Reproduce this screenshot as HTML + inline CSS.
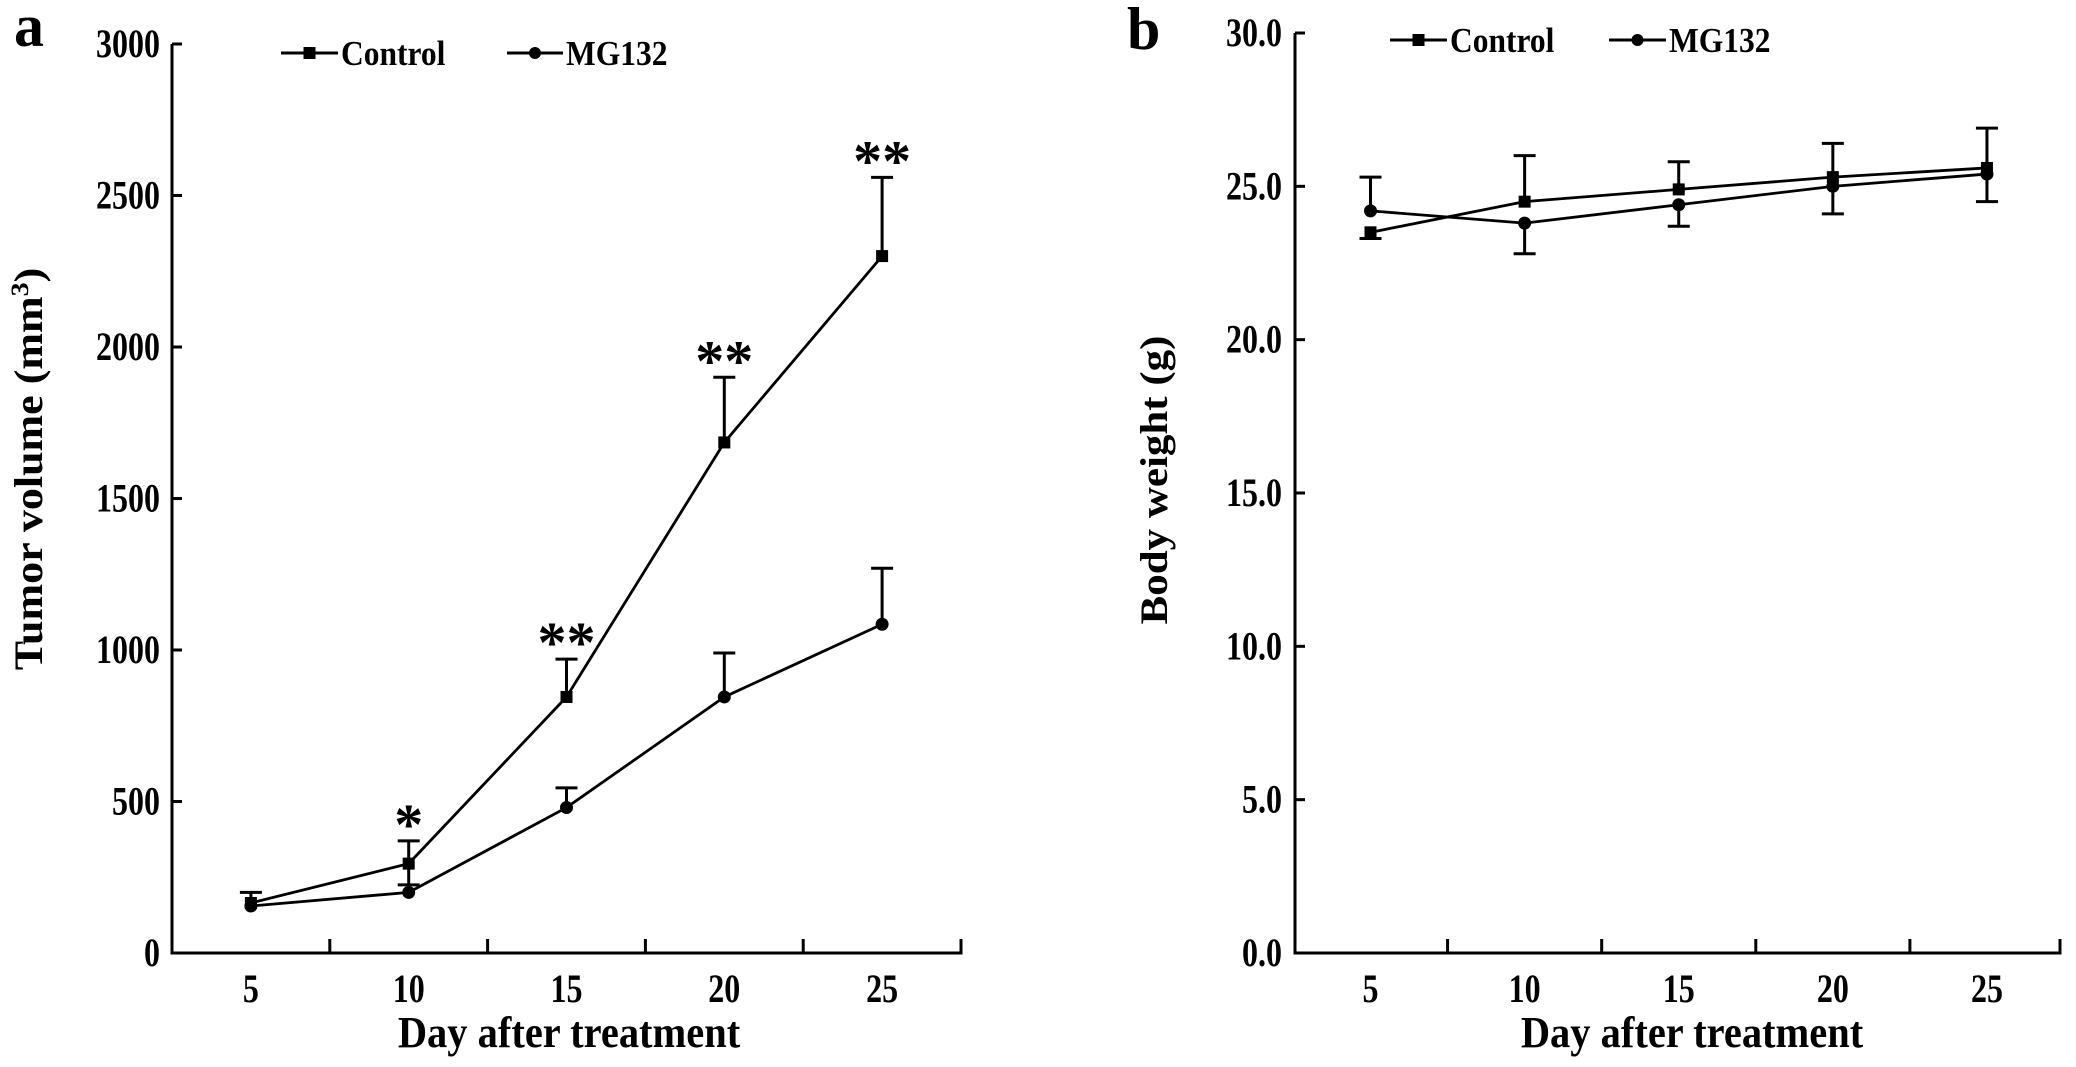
<!DOCTYPE html>
<html><head><meta charset="utf-8"><style>
html,body{margin:0;padding:0;background:#fff;}
svg{display:block;font-family:"Liberation Serif",serif;font-weight:bold;}
</style></head><body>
<svg id="fig" width="2076" height="1067" viewBox="0 0 2076 1067"></svg>
<script>
const days = [5, 10, 15, 20, 25];
const xTickLabels = ["5", "10", "15", "20", "25"];
const volTicks = [0, 500, 1000, 1500, 2000, 2500, 3000];
const volControl = [165, 295, 845, 1685, 2300];
const volControlErrUp = [35, 75, 125, 215, 260];
const volControlErrDown = [0, 70, 0, 0, 0];
const volMG = [155, 200, 480, 845, 1085];
const volMGErrUp = [0, 0, 65, 145, 185];
const volMGErrDown = [0, 0, 0, 0, 0];
const volStars = ["", "*", "**", "**", "**"];
const wtTicks = [0, 5, 10, 15, 20, 25, 30];
const wtTickLabels = ["0.0", "5.0", "10.0", "15.0", "20.0", "25.0", "30.0"];
const wtControl = [23.5, 24.5, 24.9, 25.3, 25.6];
const wtControlErrUp = [0, 1.5, 0.9, 1.1, 1.3];
const wtControlErrDown = [0.2, 0, 0, 0, 0];
const wtMG = [24.2, 23.8, 24.4, 25.0, 25.4];
const wtMGErrUp = [1.1, 0, 0, 0, 0];
const wtMGErrDown = [0, 1.0, 0.7, 0.9, 0.9];

const NS = "http://www.w3.org/2000/svg";
const svg = document.getElementById("fig");
function mk(tag, attrs, parent, text) {
  const e = document.createElementNS(NS, tag);
  for (const k in attrs) e.setAttribute(k, attrs[k]);
  if (text !== undefined) e.textContent = text;
  (parent || svg).appendChild(e);
  return e;
}
function txt(x, y, size, sx, anchor, parent, s) {
  return mk("text", {x: 0, y: 0, "font-size": size, "text-anchor": anchor, transform: `translate(${x},${y}) scale(${sx},1)`}, parent, s);
}

function panel(cfg) {
  const g = mk("g", {});
  
  
  const sx = v => cfg.x0 + (v - cfg.dmin) / (cfg.dmax - cfg.dmin) * (cfg.x1 - cfg.x0);
  const sy = v => cfg.y0 - (v - cfg.vmin) / (cfg.vmax - cfg.vmin) * (cfg.y0 - cfg.y1);
  const ax = mk("path", {d: `M${cfg.x0},${cfg.y1} V${cfg.y0} H${cfg.x1} V${cfg.y0-14}`, fill: "none", stroke: "#000", "stroke-width": 3}, g);
  
  
  for (let i = 0; i < days.length - 1; i++) {
    const xm = sx((days[i] + days[i+1]) / 2);
    const t = mk("line", {x1: xm, x2: xm, y1: cfg.y0, y2: cfg.y0 - 14, stroke: "#000", "stroke-width": 3}, g);
    
    
  }
  days.forEach((d, i) => {
    const t = txt(sx(d), 1002, 40, 0.8, "middle", g, xTickLabels[i]);
    
    
  });
  cfg.ticks.forEach((v, i) => {
    const tk = mk("line", {x1: cfg.x0, x2: cfg.x0 + 10, y1: sy(v), y2: sy(v), stroke: "#000", "stroke-width": 3}, g);
    
    
    const t = txt(cfg.labelRight, sy(v) + 13, 40, 0.8, "end", g, cfg.tickLabels[i]);
    
    
  });
  const xt = txt(cfg.xTitleX, 1047, 44, 0.92, "middle", g, "Day after treatment");
  
  
  const yt = mk("text", {x: 0, y: 0, "text-anchor": "middle", "font-size": cfg.yTitleSize, transform: `translate(${cfg.yTitleX},${cfg.yTitleY}) rotate(-90) scale(1,0.92)`}, g);
  
  
  yt.innerHTML = cfg.yTitle;
  const pl = mk("text", {x: cfg.panelX, y: cfg.panelY, "font-size": 60}, g, cfg.panelLabel);
  
  

  function series(vals, up, down, marker, name) {
    const sg = mk("g", {}, g);
    
    
    vals.forEach((v, i) => {
      const x = sx(days[i]);
      if (up[i] > 0) {
        mk("line", {x1: x, x2: x, y1: sy(v), y2: sy(v + up[i]), stroke: "#000", "stroke-width": 3}, sg);
        mk("line", {x1: x - 11, x2: x + 11, y1: sy(v + up[i]), y2: sy(v + up[i]), stroke: "#000", "stroke-width": 3}, sg);
      }
      if (down[i] > 0) {
        mk("line", {x1: x, x2: x, y1: sy(v), y2: sy(v - down[i]), stroke: "#000", "stroke-width": 3}, sg);
        mk("line", {x1: x - 11, x2: x + 11, y1: sy(v - down[i]), y2: sy(v - down[i]), stroke: "#000", "stroke-width": 3}, sg);
      }
    });
    const pts = vals.map((v, i) => sx(days[i]) + "," + sy(v)).join(" ");
    const line = mk("polyline", {points: pts, fill: "none", stroke: "#000", "stroke-width": 2.8}, sg);
    
    
    vals.forEach((v, i) => {
      const x = sx(days[i]), y = sy(v);
      let m;
      if (marker === "square") m = mk("rect", {x: x - 6, y: y - 6, width: 12, height: 12, fill: "#000"}, sg);
      else m = mk("circle", {cx: x, cy: y, r: 6.5, fill: "#000"}, sg);
      
      
    });
  }
  series(cfg.c, cfg.cu, cfg.cd, "square", "control-series");
  series(cfg.m, cfg.mu, cfg.md, "circle", "mg132-series");

  if (cfg.stars) {
    cfg.stars.forEach((s, i) => {
      if (!s) return;
      const st = mk("text", {x: sx(days[i]), y: sy(cfg.c[i] + cfg.cu[i]) + 3, "text-anchor": "middle", "font-size": 58}, g, s);
      
      
    });
  }
  const lg = mk("g", {}, g);
  
  
  const L = cfg.legend;
  mk("line", {x1: L.c[0], x2: L.c[1], y1: L.y, y2: L.y, stroke: "#000", "stroke-width": 3}, lg);
  mk("rect", {x: (L.c[0]+L.c[1])/2 - 6, y: L.y - 6, width: 12, height: 12, fill: "#000"}, lg);
  const lc = txt(L.c[1] + 3, L.y + 12, 35, 0.9, "start", lg, "Control");
  
  
  mk("line", {x1: L.m[0], x2: L.m[1], y1: L.y, y2: L.y, stroke: "#000", "stroke-width": 3}, lg);
  mk("circle", {cx: (L.m[0]+L.m[1])/2, cy: L.y, r: 6, fill: "#000"}, lg);
  const lm = txt(L.m[1] + 3, L.y + 12, 35, 0.9, "start", lg, "MG132");
  
  
}

panel({name: "tumor-volume-chart", x0: 172, x1: 961, y0: 953, y1: 44, dmin: 2.5, dmax: 27.5, vmin: 0, vmax: 3000,
  ticks: volTicks, tickLabels: volTicks.map(String), labelRight: 160, xTitleX: 569, yTitleX: 42, yTitleY: 469, yTitleSize: 44,
  yTitle: 'Tumor volume (mm<tspan dy="-15" font-size="28">3</tspan><tspan dy="15">)</tspan>',
  panelX: 14, panelY: 46, panelLabel: "a",
  c: volControl, cu: volControlErrUp, cd: volControlErrDown, m: volMG, mu: volMGErrUp, md: volMGErrDown, stars: volStars,
  legend: {y: 53, c: [281, 338], m: [507, 563]}});

panel({name: "body-weight-chart", x0: 1295, x1: 2060, y0: 953, y1: 33, dmin: 2.55, dmax: 27.37, vmin: 0, vmax: 30,
  ticks: wtTicks, tickLabels: wtTickLabels, labelRight: 1282, xTitleX: 1692, yTitleX: 1167, yTitleY: 480, yTitleSize: 43,
  yTitle: 'Body weight (g)', panelX: 1127, panelY: 49, panelLabel: "b",
  c: wtControl, cu: wtControlErrUp, cd: wtControlErrDown, m: wtMG, mu: wtMGErrUp, md: wtMGErrDown, stars: null,
  legend: {y: 40, c: [1390, 1447], m: [1609, 1666]}});
</script>
</body></html>
